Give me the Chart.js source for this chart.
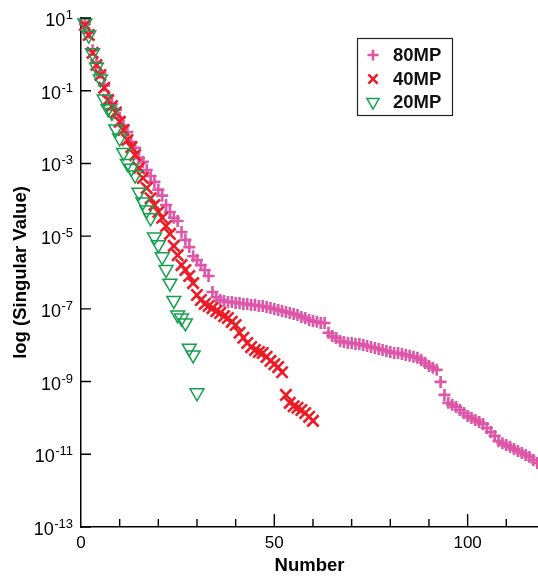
<!DOCTYPE html>
<html>
<head>
<meta charset="utf-8">
<script src="https://cdn.jsdelivr.net/npm/chart.js@4"></script>
<style>
  body { margin: 0; background: #fff; }
  #wrap { width: 538px; height: 577px; }
</style>
</head>
<body>
<div id="wrap"><canvas id="sv-chart" width="538" height="577"></canvas></div>
<script>
// Singular values, one per mode number (1, 2, 3, ...)
const sv80 = [
  6.8, 3.9, 1.3, 0.58, 0.31, 0.14, 0.072, 0.043, 0.030, 0.018,
  0.011, 7.3e-3, 3.9e-3, 2.7e-3, 1.4e-3, 1.1e-3, 6.6e-4, 4.5e-4, 3.1e-4, 1.9e-4,
  1.3e-4, 7.2e-5, 4.6e-5, 3.2e-5, 2.6e-5, 1.3e-5, 7.9e-6, 5.0e-6, 2.8e-6, 2.2e-6,
  1.6e-6, 1.17e-6, 8.0e-7, 2.9e-7, 2.1e-7, 1.75e-7, 1.65e-7, 1.55e-7, 1.55e-7, 1.45e-7,
  1.45e-7, 1.36e-7, 1.36e-7, 1.28e-7, 1.28e-7, 1.2e-7, 1.2e-7, 1.13e-7, 1.06e-7, 9.9e-8,
  9.3e-8, 8.7e-8, 8.2e-8, 7.7e-8, 7.2e-8, 6.8e-8, 6.0e-8, 5.6e-8, 4.9e-8, 4.6e-8,
  4.4e-8, 4.1e-8, 4.1e-8, 2.2e-8, 1.8e-8, 1.58e-8, 1.31e-8, 1.23e-8, 1.15e-8, 1.15e-8,
  1.08e-8, 1.08e-8, 1.02e-8, 9.5e-9, 8.9e-9, 8.4e-9, 7.9e-9, 7.4e-9, 6.9e-9, 6.5e-9,
  6.1e-9, 6.1e-9, 5.7e-9, 5.4e-9, 5.1e-9, 4.8e-9, 4.5e-9, 3.9e-9, 3.25e-9, 2.7e-9,
  2.4e-9, 2.1e-9, 9.8e-10, 4.3e-10, 2.6e-10, 2.3e-10, 2.0e-10, 1.66e-10, 1.37e-10, 1.13e-10,
  1.0e-10, 8.8e-11, 7.7e-11, 6.8e-11, 5.3e-11, 4.1e-11, 3.2e-11, 2.3e-11, 2.0e-11, 1.8e-11,
  1.6e-11, 1.4e-11, 1.23e-11, 1.09e-11, 9.6e-12, 8.4e-12, 7.0e-12, 5.8e-12
];
const sv40 = [
  6.4, 3.4, 1.1, 0.51, 0.27, 0.12, 0.055, 0.038, 0.025, 0.014,
  8.3e-3, 4.4e-3, 2.8e-3, 1.7e-3, 7.5e-4, 4.0e-4, 2.1e-4, 1.1e-4, 7.2e-5, 4.6e-5,
  3.2e-5, 1.9e-5, 1.15e-5, 5.4e-6, 3.0e-6, 1.6e-6, 1.17e-6, 8.0e-7, 5.1e-7, 2.4e-7,
  1.75e-7, 1.36e-7, 1.2e-7, 1.05e-7, 8.7e-8, 7.7e-8, 6.3e-8, 5.6e-8, 4.4e-8, 3.6e-8,
  2.2e-8, 1.6e-8, 1.15e-8, 8.9e-9, 7.4e-9, 6.5e-9, 6.1e-9, 4.8e-9, 3.7e-9, 3.0e-9,
  2.5e-9, 1.8e-9, 4.3e-10, 2.6e-10, 2.1e-10, 1.9e-10, 1.65e-10, 1.37e-10, 1.07e-10, 8.3e-11
];
const sv20 = [
  7.3, 3.4, 1.1, 0.45, 0.21, 0.059, 0.032, 0.025, 8.9e-3, 5.0e-3,
  2.0e-3, 1.0e-3, 7.4e-4, 4.8e-4, 1.6e-4, 8.7e-5, 5.2e-5, 3.2e-5, 9.5e-6, 5.8e-6,
  2.7e-6, 1.2e-6, 5.1e-7, 1.7e-7, 6.8e-8, 5.6e-8, 4.1e-8, 8.3e-9, 5.4e-9, 4.9e-10
];
const seriesNames = ['80MP', '40MP', '20MP'];

// Axis ticks
const xLabelTicks = [0, 50, 100];
const xMinorTicks = [10, 20, 30, 40, 50, 60, 70, 80, 90, 100, 110];
const yTicks = [1e1, 1e-1, 1e-3, 1e-5, 1e-7, 1e-9, 1e-11, 1e-13];

const PINK = '#dd56a8';
const RED = '#ec1c26';
const GREEN = '#14a04e';
const FONT = "'Liberation Sans', Arial, Helvetica, sans-serif";

function toPoints(values) {
  return values.map((v, i) => ({ x: i + 1, y: v }));
}

const markerStyles = [
  { pointStyle: 'cross', rotation: 0, radius: 6, borderWidth: 2.6, color: PINK },
  { pointStyle: 'crossRot', rotation: 0, radius: 8, borderWidth: 2.6, color: RED },
  { pointStyle: 'triangle', rotation: 180, radius: 8, borderWidth: 1.5, color: GREEN },
];

// Power-of-ten tick labels, inward tick marks and the boxed legend
const decorations = {
  id: 'decorations',
  afterDraw(chart) {
    const { ctx, chartArea } = chart;
    const xs = chart.scales.x;
    const ys = chart.scales.y;
    ctx.save();
    ctx.strokeStyle = '#000';
    ctx.lineWidth = 1.4;
    ctx.beginPath();
    yTicks.forEach((v) => {
      const py = ys.getPixelForValue(v);
      ctx.moveTo(chartArea.left, py);
      ctx.lineTo(chartArea.left + 10, py);
    });
    xMinorTicks.forEach((v) => {
      const px = xs.getPixelForValue(v);
      const len = v % 50 === 0 ? 13 : 8;
      ctx.moveTo(px, chartArea.bottom);
      ctx.lineTo(px, chartArea.bottom - len);
    });
    ctx.stroke();

    // y labels: "10" with a raised exponent
    ctx.fillStyle = '#000';
    ctx.textAlign = 'right';
    ctx.textBaseline = 'alphabetic';
    yTicks.forEach((v) => {
      const py = ys.getPixelForValue(v);
      const exp = String(Math.round(Math.log10(v)));
      const right = chartArea.left - 8;
      ctx.font = '13px ' + FONT;
      const expW = ctx.measureText(exp).width;
      ctx.fillText(exp, right, py + 1);
      ctx.font = '18px ' + FONT;
      ctx.fillText('10', right - expW - 0.5, py + 8);
    });

    // legend box
    ctx.lineWidth = 1.2;
    ctx.strokeStyle = '#222';
    ctx.strokeRect(357.5, 38.5, 95, 77);
    const rows = [55, 79, 102];
    ctx.font = 'bold 18.5px ' + FONT;
    ctx.textBaseline = 'middle';
    ctx.textAlign = 'left';
    seriesNames.forEach((name, i) => {
      const m = markerStyles[i];
      ctx.strokeStyle = m.color;
      ctx.fillStyle = 'rgba(0,0,0,0)';
      ctx.lineWidth = m.borderWidth;
      const r = [5.5, 6.5, 7][i];
      Chart.helpers.drawPoint(ctx, {
        pointStyle: m.pointStyle, rotation: m.rotation, radius: r, borderWidth: m.borderWidth,
      }, 373, rows[i]);
      ctx.fillStyle = '#111';
      ctx.fillText(name, 393, rows[i] + 1);
    });
    ctx.restore();
  },
};

const datasets = [sv80, sv40, sv20].map((values, i) => ({
  label: seriesNames[i],
  data: toPoints(values),
  showLine: false,
  pointStyle: markerStyles[i].pointStyle,
  rotation: markerStyles[i].rotation,
  pointRadius: markerStyles[i].radius,
  pointBorderWidth: markerStyles[i].borderWidth,
  pointBorderColor: markerStyles[i].color,
  pointBackgroundColor: 'rgba(0,0,0,0)',
  clip: false,
  order: 2 - i,
}));

const chart = new Chart(document.getElementById('sv-chart').getContext('2d'), {
  type: 'scatter',
  data: { datasets: datasets },
  options: {
    responsive: false,
    animation: false,
    layout: { autoPadding: false, padding: { top: 18, right: 0, bottom: 0, left: 0 } },
    plugins: { legend: { display: false }, tooltip: { enabled: false } },
    scales: {
      x: {
        type: 'linear',
        min: 0,
        max: 118.2,
        afterBuildTicks: (scale) => { scale.ticks = xLabelTicks.map((v) => ({ value: v })); },
        afterFit: (scale) => {
          scale.height = 50;
          scale.paddingLeft = 0;
          scale.paddingRight = 0;
        },
        grid: { display: false, drawTicks: false },
        border: { display: true, color: '#000', width: 1.5 },
        ticks: {
          autoSkip: false,
          maxRotation: 0,
          padding: 6,
          color: '#000',
          font: { family: FONT, size: 17 },
        },
        title: {
          display: true,
          text: 'Number',
          color: '#000',
          padding: 0,
          font: { family: FONT, size: 18.5, weight: 'bold' },
        },
      },
      y: {
        type: 'logarithmic',
        min: 1e-13,
        max: 1e1,
        afterBuildTicks: (scale) => { scale.ticks = yTicks.map((v) => ({ value: v })); },
        afterFit: (scale) => {
          scale.width = 81;
          scale.paddingTop = 0;
          scale.paddingBottom = 0;
        },
        grid: { display: false, drawTicks: false },
        border: { display: true, color: '#000', width: 1.5 },
        ticks: { display: false },
        title: {
          display: true,
          text: 'log (Singular Value)',
          color: '#000',
          padding: { top: 10, bottom: 0 },
          font: { family: FONT, size: 18.5, weight: 'bold' },
        },
      },
    },
  },
  plugins: [decorations],
});
</script>
</body>
</html>
